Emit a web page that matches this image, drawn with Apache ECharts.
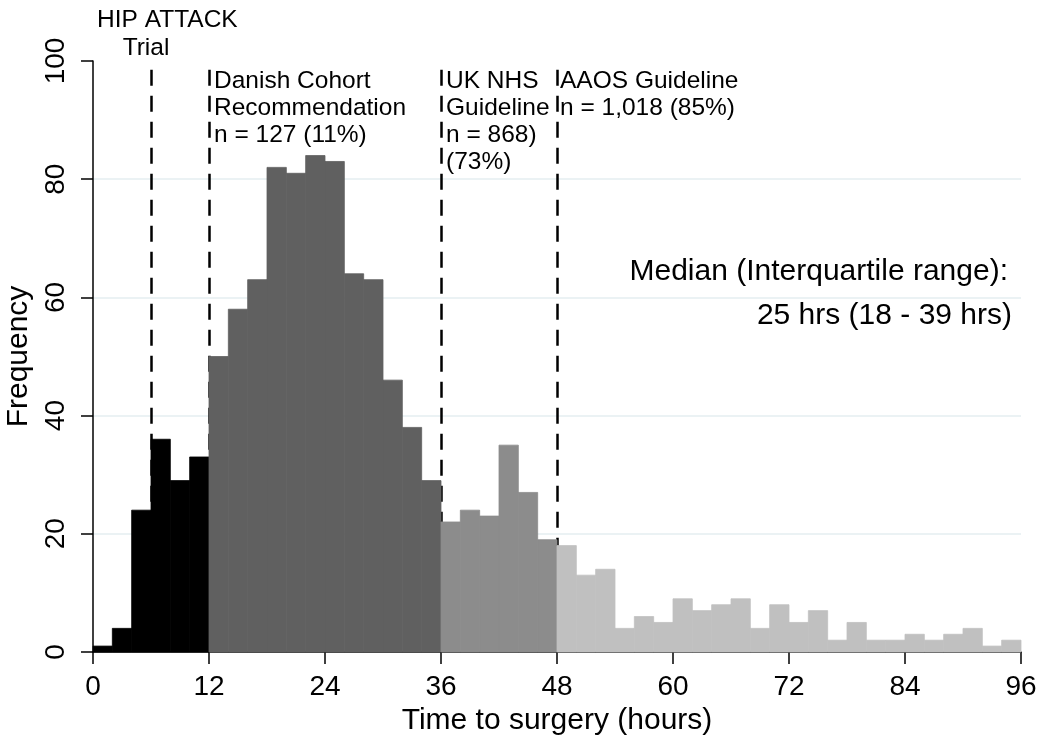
<!DOCTYPE html>
<html>
<head>
<meta charset="utf-8">
<script src="https://cdn.jsdelivr.net/npm/echarts@6/dist/echarts.min.js"></script>
<style>html,body{margin:0;padding:0;background:#fff}#c{width:1042px;height:739px}</style>
</head>
<body>
<div id="c"></div>
<script>
// Histogram: 2-hour bins from 0 to 96 hours
const binWidth = 2;
const frequency = [
  1, 4, 24, 36, 29, 33,
  50, 58, 63, 82, 81, 84, 83, 64, 63, 46, 38, 29,
  22, 24, 23, 35, 27, 19,
  18, 13, 14, 4, 6, 5, 9, 7, 8, 9, 4, 8, 5, 7, 2, 5, 2, 2, 3, 2, 3, 4, 1, 2
];
const regionEdges = [0, 12, 36, 48, 96];
const regionColors = ['#000000', '#606060', '#8c8c8c', '#c0c0c0'];
const guideHours = [6, 12, 36, 48];
const xTicks = [0, 12, 24, 36, 48, 60, 72, 84, 96];
const yTicks = [0, 20, 40, 60, 80, 100];

const FONT = 'Liberation Sans, Arial, Helvetica, sans-serif';

function regionColor(start) {
  for (let r = 0; r < regionColors.length; r++) {
    if (start >= regionEdges[r] && start < regionEdges[r + 1]) return regionColors[r];
  }
  return regionColors[regionColors.length - 1];
}

const barData = frequency.map((f, i) => {
  const s = i * binWidth;
  return { value: [s, s + binWidth, f], itemStyle: { color: regionColor(s) } };
});

const chart = echarts.init(document.getElementById('c'), null, { renderer: 'canvas' });
chart.setOption({
  animation: false,
  backgroundColor: '#fff',
  grid: { left: 93, right: 21, top: 61, bottom: 87, containLabel: false, outerBoundsMode: 'none' },
  xAxis: {
    type: 'value', min: xTicks[0], max: xTicks[xTicks.length - 1], interval: 12,
    name: 'Time to surgery (hours)', nameLocation: 'middle', nameGap: 49,
    nameTextStyle: { fontSize: 30, color: '#000', fontFamily: FONT },
    axisLine: { show: true, lineStyle: { color: '#000', width: 1.5 } },
    axisTick: { show: true, length: 12, lineStyle: { color: '#000', width: 1.5 } },
    axisLabel: { fontSize: 28, color: '#000', fontFamily: FONT, margin: 21 },
    splitLine: { show: false }
  },
  yAxis: {
    type: 'value', min: yTicks[0], max: yTicks[yTicks.length - 1], interval: 20,
    name: 'Frequency', nameLocation: 'middle', nameGap: 55, nameRotate: 90,
    nameTextStyle: { fontSize: 30, color: '#000', fontFamily: FONT },
    axisLine: { show: true, lineStyle: { color: '#000', width: 1.5 } },
    axisTick: { show: true, length: 12, lineStyle: { color: '#000', width: 1.5 } },
    axisLabel: { fontSize: 28, color: '#000', fontFamily: FONT, margin: 23, rotate: 90 },
    splitLine: { show: true, showMinLine: false, showMaxLine: false, lineStyle: { color: '#e4eef1', width: 1.5 } }
  },
  series: [
    {
      type: 'line', data: [], z: 1, silent: true,
      markLine: {
        silent: true, symbol: 'none', animation: false, z: 1,
        label: { show: false },
        lineStyle: { color: '#000', width: 2.5, type: [16, 10] },
        data: guideHours.map(h => [{ coord: [h, 98.5] }, { coord: [h, 0] }])
      }
    },
    {
      type: 'custom', z: 10,
      renderItem: function (params, api) {
        const p0 = api.coord([api.value(0), api.value(2)]);
        const p1 = api.coord([api.value(1), 0]);
        const c = api.visual('color');
        return {
          type: 'rect',
          shape: { x: p0[0], y: p0[1], width: p1[0] - p0[0], height: p1[1] - p0[1] },
          style: { fill: c, stroke: c, lineWidth: 0.8 }
        };
      },
      encode: { x: [0, 1], y: 2 },
      data: barData
    }
  ],
  graphic: [
    { type: 'text', style: { text: 'HIP ATTACK', x: 97, y: 20, verticalAlign: 'middle', fontSize: 24.5, fontFamily: FONT, fill: '#000' } },
    { type: 'text', style: { text: 'Trial', x: 146, y: 48, align: 'center', verticalAlign: 'middle', fontSize: 24.5, fontFamily: FONT, fill: '#000' } },
    { type: 'text', style: { text: 'Danish Cohort\nRecommendation\nn = 127 (11%)', x: 214, y: 68, lineHeight: 27, fontSize: 24.5, fontFamily: FONT, fill: '#000' } },
    { type: 'text', style: { text: 'UK NHS\nGuideline\nn = 868)\n(73%)', x: 446, y: 68, lineHeight: 27, fontSize: 24.5, fontFamily: FONT, fill: '#000' } },
    { type: 'text', style: { text: 'AAOS Guideline\nn = 1,018 (85%)', x: 560, y: 68, lineHeight: 27, fontSize: 24.5, fontFamily: FONT, fill: '#000' } },
    { type: 'text', style: { text: 'Median (Interquartile range):', x: 1008, y: 272, align: 'right', verticalAlign: 'middle', fontSize: 30, fontFamily: FONT, fill: '#000' } },
    { type: 'text', style: { text: '25 hrs (18 - 39 hrs)', x: 1012, y: 316, align: 'right', verticalAlign: 'middle', fontSize: 30, fontFamily: FONT, fill: '#000' } }
  ]
});
</script>
</body>
</html>
